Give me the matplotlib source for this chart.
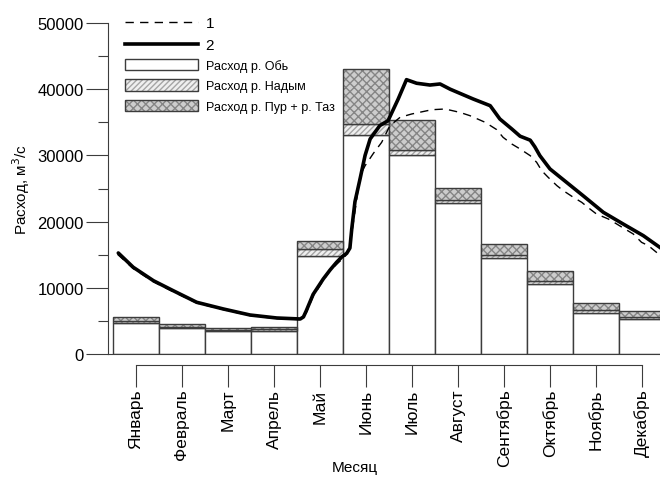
import matplotlib.pyplot as plt
from matplotlib.lines import Line2D
from matplotlib.patches import Patch
from matplotlib.legend_handler import HandlerTuple
from matplotlib.ticker import MultipleLocator

plt.rcParams['font.family'] = ['Liberation Sans', 'DejaVu Sans']
plt.rcParams['hatch.linewidth'] = 1.0

months = ['Январь', 'Февраль', 'Март', 'Апрель', 'Май', 'Июнь',
          'Июль', 'Август', 'Сентябрь', 'Октябрь', 'Ноябрь', 'Декабрь']

# monthly discharge by river, m3/s
ob = [4700, 3900, 3400, 3500, 14800, 33100, 30100, 22750, 14450, 10550, 6200, 5300]
nadym = [300, 250, 200, 250, 1000, 1650, 650, 500, 500, 450, 400, 300]
pur_taz = [600, 400, 300, 400, 1250, 8300, 4600, 1900, 1650, 1500, 1050, 850]

# curve 1 (dashed), x in months from 1 January
c1_x = [0.10, 0.44, 0.88, 1.31, 1.82, 2.40, 2.98, 3.56, 4.07, 4.20, 4.35, 4.57, 4.72, 4.93,
        5.04, 5.15, 5.26, 5.37, 5.48, 5.66, 5.84, 6.02, 6.24, 6.49, 6.93, 7.22, 7.54,
        7.76, 8.09, 8.34, 8.48, 8.67, 8.85, 9.07, 9.21, 9.32, 9.46, 9.65, 9.79, 10.01,
        10.19, 10.37, 10.51, 10.77, 10.95, 11.13, 11.31, 11.49, 11.64, 11.86, 11.95]
c1_y = [15050, 12900, 10900, 9400, 7700, 6700, 5800, 5350, 5200, 6200, 8700, 11100, 12600, 14000,
        14600, 16300, 21500, 26930, 28440, 30300, 31970, 34490, 35750, 36250, 36900, 37010, 36500,
        36000, 35000, 33900, 32730, 31720, 30970, 29960, 28950, 27690, 26690, 25430, 24670, 23660,
        22910, 21900, 21150, 20390, 19640, 18880, 18130, 16870, 16360, 15100, 14600]

# curve 2 (solid)
c2_x = [0.115, 0.44, 0.88, 1.31, 1.82, 2.40, 2.98, 3.56, 4.07, 4.14, 4.20, 4.35, 4.57, 4.72,
        4.86, 4.98, 5.08, 5.15, 5.19, 5.26, 5.37, 5.48, 5.59, 5.80, 5.98, 6.20, 6.38, 6.60,
        6.89, 7.11, 7.33, 7.83, 8.20, 8.41, 8.67, 8.85, 9.07, 9.17, 9.28, 9.50, 9.86, 10.22,
        10.66, 11.09, 11.53, 11.95]
c2_y = [15260, 13100, 11070, 9560, 7810, 6800, 5890, 5440, 5290, 5600, 6500, 9000, 11330, 12700,
        13850, 14700, 15200, 16000, 18880, 23000, 26430, 30000, 32480, 34500, 35250, 38520, 41440,
        40900, 40630, 40790, 40000, 38520, 37510, 35500, 33990, 32900, 32300, 31300, 29960, 27950,
        25930, 23910, 21400, 19640, 17870, 15800]

edge = '#3c3c3c'
fig = plt.figure(figsize=(6.6, 4.81), dpi=100)
ax = fig.add_axes([108 / 660, 1 - 355 / 481, 552 / 660, 331 / 481])

xs = [i + 0.5 for i in range(12)]
b2 = [a + b for a, b in zip(ob, nadym)]
ax.bar(xs, ob, width=1, color='white', edgecolor=edge, linewidth=1)
ax.bar(xs, nadym, width=1, bottom=ob, color='#efefef', edgecolor='#a5a5a5', hatch='//////', linewidth=0)
ax.bar(xs, nadym, width=1, bottom=ob, fill=False, edgecolor=edge, linewidth=1)
ax.bar(xs, pur_taz, width=1, bottom=b2, color='#cdcdcd', edgecolor='#858585', hatch='xxxx', linewidth=0)
ax.bar(xs, pur_taz, width=1, bottom=b2, fill=False, edgecolor=edge, linewidth=1)

ax.plot(c1_x, c1_y, color='black', lw=1.0, dashes=(6, 4.5))
ax.plot(c2_x, c2_y, color='black', lw=2.6, solid_capstyle='round', solid_joinstyle='round')

ax.set_xlim(-5 / 46, 547 / 46)
ax.set_ylim(0, 50000)
ax.set_xticks([])
ax.yaxis.set_major_locator(MultipleLocator(10000))
ax.yaxis.set_minor_locator(MultipleLocator(5000))
ax.tick_params(axis='y', which='major', length=16, width=0.8, pad=1.5, labelsize=12, color=edge)
ax.tick_params(axis='y', which='minor', length=7, width=0.8, color=edge)
for s in ['top', 'right']:
    ax.spines[s].set_visible(False)
for s in ['left', 'bottom']:
    ax.spines[s].set_linewidth(0.8)
    ax.spines[s].set_color(edge)
ax.set_ylabel('Расход, м$^3$/с', fontsize=11, labelpad=4)

# month bracket under the plot
ax2 = fig.add_axes([108 / 660, 1 - 366 / 481, 552 / 660, 0.001])
ax2.set_xlim(ax.get_xlim())
ax2.patch.set_visible(False)
for s in ['top', 'right', 'left']:
    ax2.spines[s].set_visible(False)
ax2.spines['bottom'].set_bounds(0.5, 11.5)
ax2.spines['bottom'].set_linewidth(0.8)
ax2.spines['bottom'].set_color(edge)
ax2.set_yticks([])
ax2.set_xticks(xs)
ax2.set_xticklabels(months, rotation=90, fontsize=12.5)
ax2.tick_params(axis='x', length=16, width=0.8, pad=1, color=edge)
fig.text(355 / 660, 1 - 468 / 481, 'Месяц', ha='center', va='center', fontsize=11)

handles = [Line2D([], [], color='black', lw=1.0, dashes=(6, 4.5)),
           Line2D([], [], color='black', lw=2.6),
           Patch(facecolor='white', edgecolor=edge, linewidth=1),
           (Patch(facecolor='#efefef', edgecolor='#a5a5a5', hatch='//////', linewidth=0),
            Patch(fill=False, edgecolor=edge, linewidth=1)),
           (Patch(facecolor='#cdcdcd', edgecolor='#858585', hatch='xxxx', linewidth=0),
            Patch(fill=False, edgecolor=edge, linewidth=1))]
labels = ['1', '2', 'Расход р. Обь', 'Расход р. Надым', 'Расход р. Пур + р. Таз']
leg = ax.legend(handles, labels, loc='upper left', bbox_to_anchor=(125 / 660, 1 - 17 / 481),
                bbox_transform=fig.transFigure, frameon=False, fontsize=9, borderpad=0,
                borderaxespad=0, handlelength=5.8, handleheight=1.0, handletextpad=0.65,
                labelspacing=0.6, handler_map={tuple: HandlerTuple(ndivide=1, pad=0)})
for t in leg.get_texts()[:2]:
    t.set_fontsize(11)

fig.savefig('out.png', dpi=100)
